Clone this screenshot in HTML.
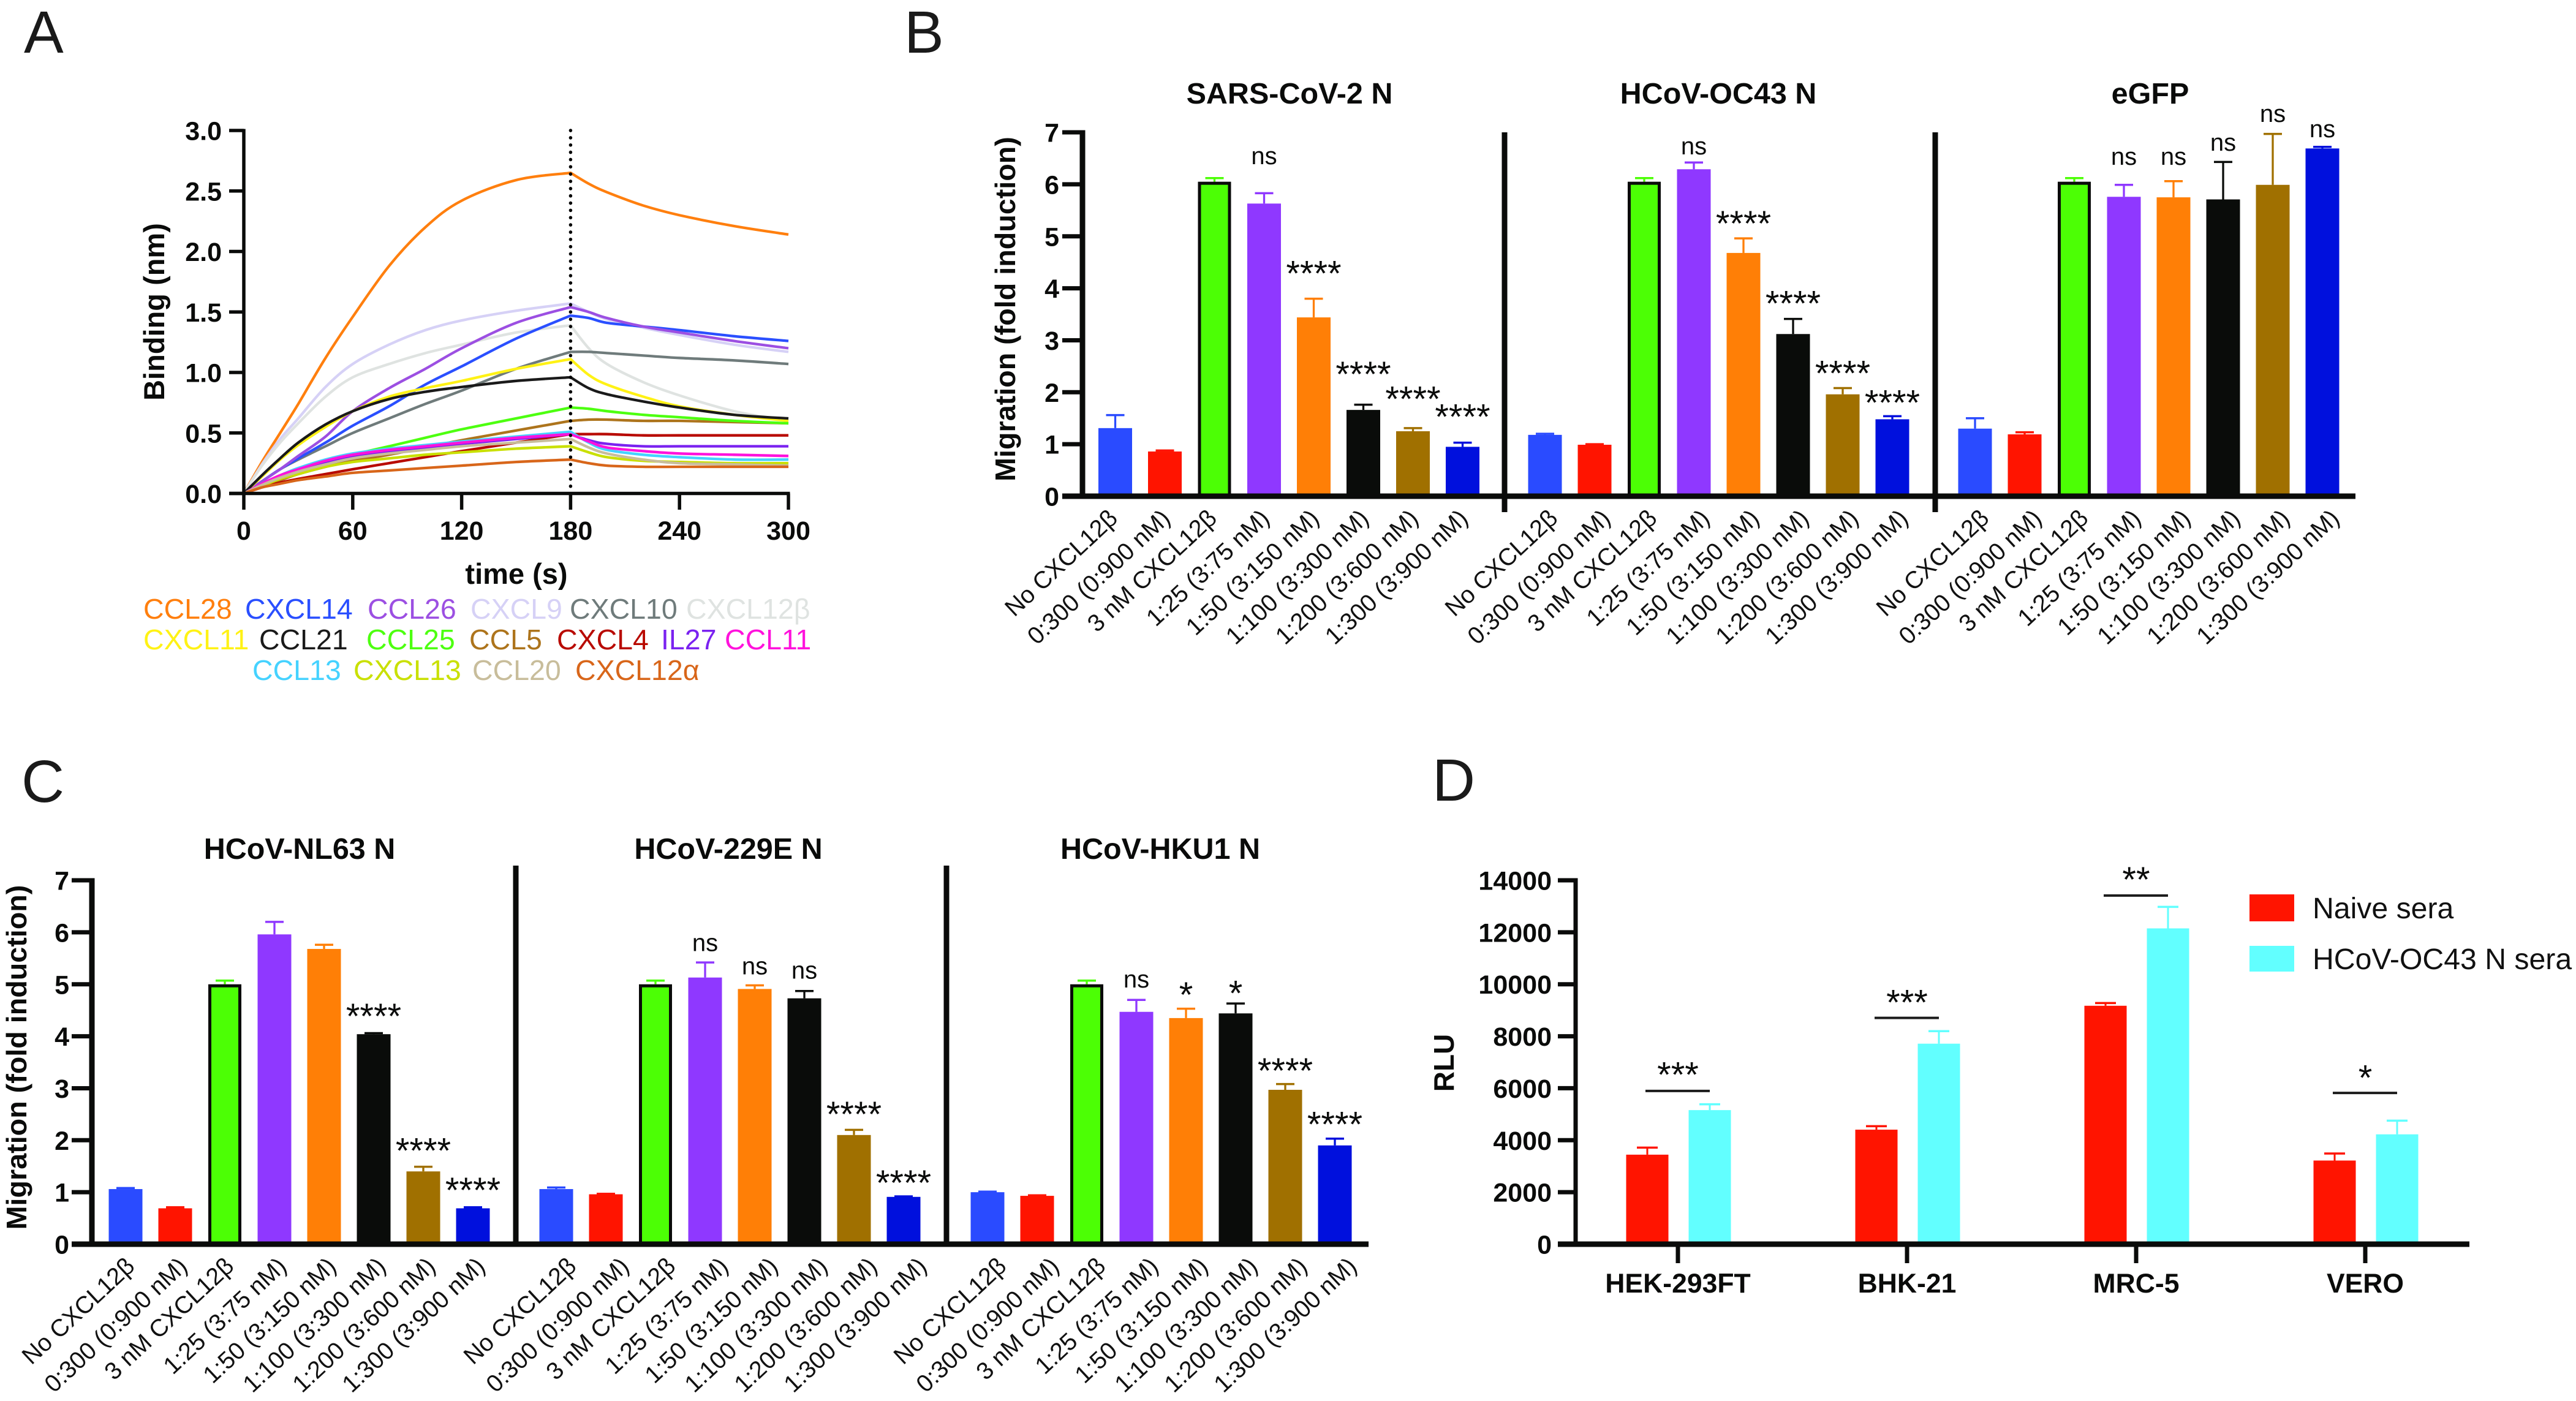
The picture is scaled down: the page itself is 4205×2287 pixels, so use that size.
<!DOCTYPE html>
<html lang="en">
<head>
<meta charset="utf-8">
<title>Chemokine binding and migration figure</title>
<style>
html,body{margin:0;padding:0;background:#fff;}
#figure{display:block;width:4205px;height:2287px;}
text{font-family:"Liberation Sans",Arial,sans-serif;fill:#0b0b0b;}
.letter{font-size:97px;fill:#1a1a1a;}
</style>
</head>
<body>
<svg id="figure" xmlns="http://www.w3.org/2000/svg" width="4205" height="2287" viewBox="0 0 4205 2287">
  <rect width="4205" height="2287" fill="#fff"/>
  <text class="letter" x="39" y="86">A</text>
  <text class="letter" x="1476" y="86">B</text>
  <text class="letter" x="35" y="1309">C</text>
  <text class="letter" x="2338" y="1307">D</text>
  <g id="panel-a"></g>
  <g id="panel-b"></g>
  <g id="panel-c"></g>
  <g id="panel-d"></g>
</svg>
<script>
// ---------- Panel A data ----------
const timePoints = [0,10,20,30,45,60,80,100,120,150,180,190,200,220,240,270,300];
const bindingTicksY = [0,0.5,1,1.5,2,2.5,3];
const bindingTicksX = [0,60,120,180,240,300];
const ccl28 = [0,.26,.5,.74,1.12,1.46,1.88,2.2,2.42,2.59,2.65,2.56,2.49,2.38,2.3,2.21,2.14];
const cxcl9 = [0,.24,.45,.62,.88,1.07,1.23,1.35,1.43,1.51,1.57,1.5,1.44,1.37,1.31,1.23,1.17];
const cxcl12b = [0,.23,.42,.58,.8,.96,1.07,1.16,1.23,1.33,1.39,1.2,1.07,.92,.81,.68,.6];
const cxcl10 = [0,.1,.2,.28,.39,.5,.62,.74,.85,1.03,1.17,1.17,1.16,1.14,1.12,1.1,1.07];
const cxcl14 = [0,.1,.2,.29,.42,.56,.72,.9,1.05,1.28,1.47,1.45,1.41,1.38,1.35,1.3,1.26];
const ccl26 = [0,.1,.2,.31,.47,.68,.87,1.03,1.2,1.41,1.54,1.5,1.45,1.38,1.33,1.26,1.2];
const cxcl11 = [0,.14,.28,.4,.55,.68,.8,.87,.93,1.03,1.11,.98,.9,.8,.72,.65,.6];
const ccl21 = [0,.15,.29,.42,.57,.68,.78,.84,.88,.93,.96,.87,.82,.76,.71,.65,.62];
const ccl5 = [0,.06,.11,.16,.22,.27,.32,.38,.44,.52,.6,.61,.61,.6,.6,.59,.58];
const ccl25 = [0,.07,.13,.19,.26,.32,.39,.46,.53,.62,.71,.7,.68,.65,.63,.6,.58];
const cxcl4 = [0,.05,.09,.12,.16,.2,.25,.3,.35,.42,.49,.49,.49,.48,.48,.48,.48];
const il27 = [0,.07,.14,.19,.26,.31,.35,.38,.41,.45,.49,.44,.41,.39,.39,.39,.39];
const ccl13 = [0,.08,.15,.21,.28,.33,.37,.4,.43,.47,.51,.42,.36,.32,.3,.28,.28];
const ccl11 = [0,.08,.15,.2,.27,.32,.36,.39,.42,.46,.49,.43,.38,.35,.33,.32,.31];
const cxcl13 = [0,.06,.12,.16,.22,.26,.29,.32,.34,.37,.39,.34,.3,.27,.26,.25,.25];
const ccl20 = [0,.07,.13,.18,.24,.29,.33,.36,.39,.42,.45,.38,.33,.28,.25,.24,.23];
const cxcl12a = [0,.05,.08,.11,.14,.17,.19,.21,.23,.26,.28,.25,.23,.22,.22,.22,.22];

// ---------- Panels B / C shared labels ----------
const doseCategories = ['No CXCL12β','0:300 (0:900 nM)','3 nM CXCL12β','1:25 (3:75 nM)','1:50 (3:150 nM)','1:100 (3:300 nM)','1:200 (3:600 nM)','1:300 (3:900 nM)'];
const migrationTicks = [0,1,2,3,4,5,6,7];

// Panel B
const sarsValues = [1.31,.86,6.05,5.63,3.44,1.66,1.25,.95];
const sarsErrTops = [1.56,.88,6.12,5.83,3.8,1.76,1.31,1.03];
const sarsMarks = ['','','','ns','****','****','****','****'];
const sarsMarkLevels = [0,0,0,6.53,4.38,2.44,1.96,1.62];
const oc43Values = [1.18,.99,6.05,6.29,4.68,3.12,1.96,1.48];
const oc43ErrTops = [1.2,1.0,6.12,6.42,4.96,3.41,2.08,1.54];
const oc43Marks = ['','','','ns','****','****','****','****'];
const oc43MarkLevels = [0,0,0,6.72,5.34,3.8,2.46,1.89];
const egfpValues = [1.3,1.19,6.05,5.76,5.75,5.71,5.99,6.69];
const egfpErrTops = [1.5,1.23,6.12,5.99,6.06,6.43,6.97,6.72];
const egfpMarks = ['','','','ns','ns','ns','ns','ns'];
const egfpMarkLevels = [0,0,0,6.52,6.52,6.79,7.34,7.05];

// Panel C
const nl63Values = [1.06,.69,5.0,5.96,5.68,4.04,1.4,.69];
const nl63ErrTops = [1.08,.71,5.07,6.2,5.76,4.06,1.49,.71];
const nl63Marks = ['','','','','','****','****','****'];
const nl63MarkLevels = [0,0,0,0,0,4.48,1.89,1.13];
const e229Values = [1.06,.96,5.0,5.13,4.91,4.73,2.1,.91];
const e229ErrTops = [1.09,.97,5.07,5.42,4.98,4.87,2.2,.92];
const e229Marks = ['','','','ns','ns','ns','****','****'];
const e229MarkLevels = [0,0,0,5.78,5.33,5.25,2.59,1.27];
const hku1Values = [1.0,.93,5.0,4.47,4.35,4.44,2.97,1.9];
const hku1ErrTops = [1.01,.94,5.07,4.7,4.53,4.63,3.08,2.03];
const hku1Marks = ['','','','ns','*','*','****','****'];
const hku1MarkLevels = [0,0,0,5.08,4.89,4.92,3.43,2.4];

// Panel D
const cellLines = ['HEK-293FT','BHK-21','MRC-5','VERO'];
const rluTicks = [0,2000,4000,6000,8000,10000,12000,14000];
const naiveValues = [3444,4406,9173,3218];
const naiveErrTops = [3714,4541,9278,3489];
const oc43SeraValues = [5158,7714,12150,4226];
const oc43SeraErrTops = [5383,8195,12977,4752];
const sigMarks = ['***','***','**','*'];
const sigBarLevels = [5895,8707,13413,5820];
const sigMarkLevels = [6707,9489,14210,6586];

// ---------- Styling ----------
const NS = 'http://www.w3.org/2000/svg';
const INK = '#0a0b0a';
const barColors = ['#2a4bff','#ff1400','#4cff05','#8f38ff','#ff7f06','#0a0c0a','#a07000','#0010dd'];

function drawLine(parent, x1, y1, x2, y2, w, color, name, extra) {
  const el = document.createElementNS(NS, 'line');
  el.setAttribute('x1', x1); el.setAttribute('y1', y1);
  el.setAttribute('x2', x2); el.setAttribute('y2', y2);
  el.setAttribute('stroke', color); el.setAttribute('stroke-width', w);
  if (extra) { el.setAttribute('stroke-dasharray', extra); el.setAttribute('stroke-linecap', 'round'); }
  
  
  parent.appendChild(el);
  return el;
}
function drawRect(parent, x, y, w, h, fill, name) {
  const el = document.createElementNS(NS, 'rect');
  el.setAttribute('x', x); el.setAttribute('y', y);
  el.setAttribute('width', w); el.setAttribute('height', Math.max(0, h));
  el.setAttribute('fill', fill);
  
  
  parent.appendChild(el);
  return el;
}
function drawText(parent, str, x, y, size, weight, anchor, color, name, rotate) {
  const el = document.createElementNS(NS, 'text');
  el.setAttribute('x', x); el.setAttribute('y', y);
  el.setAttribute('font-size', size);
  el.setAttribute('font-weight', weight);
  el.setAttribute('text-anchor', anchor);
  el.style.fill = color;
  if (rotate) el.setAttribute('transform', 'rotate(' + rotate + ' ' + x + ' ' + y + ')');
  el.textContent = str;
  
  
  parent.appendChild(el);
  return el;
}

// ---------- Panel A ----------
(function () {
  const g = document.getElementById('panel-a');
  const X = t => 398 + t * (1287 - 398) / 300;
  const Y = v => 805.5 - v * (805.5 - 213) / 3;
  const series = [
    ['CCL28', ccl28, '#ff7f0e'], ['CXCL9', cxcl9, '#d6d1f6'], ['CXCL12β', cxcl12b, '#dfe3e1'],
    ['CXCL10', cxcl10, '#6f7b7b'], ['CXCL14', cxcl14, '#2a4fff'], ['CCL26', ccl26, '#9c4fe2'],
    ['CXCL11', cxcl11, '#fff215'], ['CCL21', ccl21, '#1a1a1a'], ['CCL5', ccl5, '#ad741c'],
    ['CCL25', ccl25, '#4dff10'], ['CXCL4', cxcl4, '#b80a00'], ['IL27', il27, '#7a22f0'],
    ['CCL13', ccl13, '#45d2ff'], ['CCL11', ccl11, '#ff12dc'], ['CXCL13', cxcl13, '#c9e000'],
    ['CCL20', ccl20, '#c8bd9b'], ['CXCL12α', cxcl12a, '#d8661a']
  ];
  function smooth(pts) {
    let d = '';
    for (let i = 0; i < pts.length - 1; i++) {
      const p0 = pts[Math.max(0, i - 1)], p1 = pts[i], p2 = pts[i + 1], p3 = pts[Math.min(pts.length - 1, i + 2)];
      const c1x = p1[0] + (p2[0] - p0[0]) / 6, c1y = p1[1] + (p2[1] - p0[1]) / 6;
      const c2x = p2[0] - (p3[0] - p1[0]) / 6, c2y = p2[1] - (p3[1] - p1[1]) / 6;
      d += ' C' + c1x.toFixed(1) + ' ' + c1y.toFixed(1) + ' ' + c2x.toFixed(1) + ' ' + c2y.toFixed(1) + ' ' + p2[0].toFixed(1) + ' ' + p2[1].toFixed(1);
    }
    return d;
  }
  series.forEach(s => {
    const pts = timePoints.map((t, i) => [X(t), Y(s[1][i])]);
    const k = timePoints.indexOf(180);
    const d = 'M' + pts[0][0] + ' ' + pts[0][1] + smooth(pts.slice(0, k + 1)) + smooth(pts.slice(k));
    const p = document.createElementNS(NS, 'path');
    p.setAttribute('d', d);
    p.setAttribute('fill', 'none');
    p.setAttribute('stroke', s[2]);
    p.setAttribute('stroke-width', '4.3');
    p.setAttribute('stroke-linejoin', 'round');
    
    
    g.appendChild(p);
  });
  drawLine(g, X(180), 213, X(180), 796, 5.5, '#000', 'dissociation-marker-line', '0.1 11.75');
  drawLine(g, 398, 210.5, 398, 808, 5.5, INK, 'y-axis-line');
  drawLine(g, 374, 805.5, 1289.5, 805.5, 5.5, INK, 'x-axis-line');
  bindingTicksY.forEach(v => {
    drawLine(g, 374, Y(v), 398, Y(v), 5.5, INK, 'y-tick');
    drawText(g, v.toFixed(1), 362, Y(v) + 15.5, 43, 700, 'end', INK, 'y-tick-label');
  });
  bindingTicksX.forEach(t => {
    drawLine(g, X(t), 805.5, X(t), 832, 5.5, INK, 'x-tick');
    drawText(g, String(t), X(t), 881, 43, 700, 'middle', INK, 'x-tick-label');
  });
  drawText(g, 'time (s)', 843, 953, 47, 700, 'middle', INK, 'x-axis-title');
  drawText(g, 'Binding (nm)', 268, 509, 47, 700, 'middle', INK, 'y-axis-title', -90);
  const legendItems = [
    ['CCL28',234,1010,'#ff7f0e'],['CXCL14',400,1010,'#2a4fff'],['CCL26',600,1010,'#9c4fe2'],['CXCL9',768,1010,'#d6d1f6'],['CXCL10',930,1010,'#6f7b7b'],['CXCL12β',1120,1010,'#dfe3e1'],
    ['CXCL11',234,1060,'#fff215'],['CCL21',423,1060,'#1a1a1a'],['CCL25',598,1060,'#4dff10'],['CCL5',766,1060,'#ad741c'],['CXCL4',909,1060,'#b80a00'],['IL27',1079,1060,'#7a22f0'],['CCL11',1183,1060,'#ff12dc'],
    ['CCL13',412,1110,'#45d2ff'],['CXCL13',577,1110,'#c9e000'],['CCL20',771,1110,'#c8bd9b'],['CXCL12α',939,1110,'#d8661a']
  ];
  legendItems.forEach(l => {
    drawText(g, l[0], l[1], l[2], 46.5, 400, 'start', l[3], 'legend-entry');
  });
})();

// ---------- Bar groups (B, C) ----------
function migrationGroup(g, cfg, values, errTops, marks, levels) {
  const Y = v => cfg.y0 - v * cfg.unit;
  drawText(g, cfg.title, cfg.titleX, cfg.titleY, 48.5, 700, 'middle', INK, 'group-title');
  values.forEach((v, i) => {
    const cx = cfg.x0 + i * 81;
    const col = barColors[i];
    const top = Y(v);
    drawLine(g, cx, Y(errTops[i]), cx, top, 3.3, col, 'error-stem');
    drawLine(g, cx - 15, Y(errTops[i]), cx + 15, Y(errTops[i]), 3.5, col, 'error-cap');
    if (i === 2) {
      drawRect(g, cx - 27, top, 54, cfg.y0 - top, INK, 'bar-outline');
      drawRect(g, cx - 22, top + 5, 44, cfg.y0 - top - 5, col, 'bar-control');
    } else {
      drawRect(g, cx - 27.5, top, 55, cfg.y0 - top, col, 'bar');
    }
    const m = marks[i];
    if (m === 'ns') {
      drawText(g, m, cx, Y(levels[i]) + 12, 40, 400, 'middle', INK, 'significance-ns');
    } else if (m) {
      drawText(g, m, cx, Y(levels[i]) + 28, 58, 400, 'middle', INK, 'significance-stars');
    }
    const off = doseCategories[i].indexOf('CXCL') >= 0 ? -5 : 0;
    const px = cx + cfg.labelOff + off - 6;
    const py = cfg.y0 + 39;
    drawText(g, doseCategories[i], px, py, 39.5, 400, 'end', '#111', 'category-label', -43);
  });
}
function migrationAxes(g, cfg) {
  const Y = v => cfg.y0 - v * cfg.unit;
  drawLine(g, cfg.axisX, Y(7) - 3.5, cfg.axisX, cfg.y0, 9, INK, 'y-axis-line');
  drawLine(g, cfg.tickX, cfg.y0, cfg.endX, cfg.y0, 9, INK, 'x-axis-line');
  migrationTicks.forEach(v => {
    drawLine(g, cfg.tickX, Y(v), cfg.axisX, Y(v), 7, INK, 'y-tick');
    drawText(g, String(v), cfg.labelX, Y(v) + 15.5, 43, 700, 'end', INK, 'y-tick-label');
  });
  cfg.seps.forEach(x => {
    drawLine(g, x, cfg.sepTop, x, cfg.sepBottom, 9, INK, 'group-separator');
  });
  drawText(g, 'Migration (fold induction)', cfg.titleAxisX, cfg.titleAxisY, 46.7, 700, 'middle', INK, 'y-axis-title', -90);
}

(function () {
  const g = document.getElementById('panel-b');
  const base = { y0: 810, unit: 84.85, titleY: 169 };
  migrationGroup(g, Object.assign({ title: 'SARS-CoV-2 N', titleX: 2105, x0: 1820.5, labelOff: 17 }, base), sarsValues, sarsErrTops, sarsMarks, sarsMarkLevels);
  migrationGroup(g, Object.assign({ title: 'HCoV-OC43 N', titleX: 2805, x0: 2522, labelOff: 34 }, base), oc43Values, oc43ErrTops, oc43Marks, oc43MarkLevels);
  migrationGroup(g, Object.assign({ title: 'eGFP', titleX: 3510, x0: 3224, labelOff: 36 }, base), egfpValues, egfpErrTops, egfpMarks, egfpMarkLevels);
  migrationAxes(g, { y0: 810, unit: 84.85, axisX: 1767, tickX: 1734, endX: 3845, labelX: 1729, seps: [2456, 3159], sepTop: 216, sepBottom: 836, titleAxisX: 1657, titleAxisY: 504.5 });
})();

(function () {
  const g = document.getElementById('panel-c');
  const base = { y0: 2031, unit: 84.85, titleY: 1402 };
  migrationGroup(g, Object.assign({ title: 'HCoV-NL63 N', titleX: 489, x0: 205, labelOff: 28 }, base), nl63Values, nl63ErrTops, nl63Marks, nl63MarkLevels);
  migrationGroup(g, Object.assign({ title: 'HCoV-229E N', titleX: 1189, x0: 908, labelOff: 46 }, base), e229Values, e229ErrTops, e229Marks, e229MarkLevels);
  migrationGroup(g, Object.assign({ title: 'HCoV-HKU1 N', titleX: 1894, x0: 1612, labelOff: 44 }, base), hku1Values, hku1ErrTops, hku1Marks, hku1MarkLevels);
  migrationAxes(g, { y0: 2031, unit: 84.85, axisX: 150, tickX: 117, endX: 2234, labelX: 113, seps: [842, 1545], sepTop: 1413, sepBottom: 2033, titleAxisX: 43, titleAxisY: 1726 });
})();

// ---------- Panel D ----------
(function () {
  const g = document.getElementById('panel-d');
  const Y = v => 2031 - v * (2031 - 1437) / 14000;
  const groupX = i => 2739 + i * 374;
  cellLines.forEach((name, i) => {
    const cx = groupX(i);
    const xr = cx - 50, xc = cx + 52;
    drawLine(g, xr, Y(naiveErrTops[i]), xr, Y(naiveValues[i]), 3, '#ff1400', 'error-stem');
    drawLine(g, xr - 17, Y(naiveErrTops[i]), xr + 17, Y(naiveErrTops[i]), 3.5, '#ff1400', 'error-cap');
    drawRect(g, xr - 34.5, Y(naiveValues[i]), 69, 2031 - Y(naiveValues[i]), '#ff1400', 'bar-naive-sera');
    drawLine(g, xc, Y(oc43SeraErrTops[i]), xc, Y(oc43SeraValues[i]), 3, '#62ffff', 'error-stem');
    drawLine(g, xc - 17, Y(oc43SeraErrTops[i]), xc + 17, Y(oc43SeraErrTops[i]), 3.5, '#62ffff', 'error-cap');
    drawRect(g, xc - 34.5, Y(oc43SeraValues[i]), 69, 2031 - Y(oc43SeraValues[i]), '#62ffff', 'bar-oc43-sera');
    drawLine(g, cx - 53, Y(sigBarLevels[i]), cx + 52, Y(sigBarLevels[i]), 4, '#1c1c1c', 'significance-bar');
    drawText(g, sigMarks[i], cx, Y(sigMarkLevels[i]) + 28, 58, 400, 'middle', INK, 'significance-stars');
    drawLine(g, cx, 2031, cx, 2062, 7, INK, 'x-tick');
    drawText(g, name, cx, 2110, 44.5, 700, 'middle', INK, 'x-tick-label');
  });
  drawLine(g, 2572, 1433.5, 2572, 2031, 7, INK, 'y-axis-line');
  drawLine(g, 2543, 2031, 4031, 2031, 9, INK, 'x-axis-line');
  rluTicks.forEach(v => {
    drawLine(g, 2543, Y(v), 2572, Y(v), 7, INK, 'y-tick');
    drawText(g, String(v), 2533, Y(v) + 15.5, 43, 700, 'end', INK, 'y-tick-label');
  });
  drawText(g, 'RLU', 2373, 1735, 46, 700, 'middle', INK, 'y-axis-title', -90);
  drawRect(g, 3672, 1460, 73, 44, '#ff1400', 'legend-swatch-naive');
  drawRect(g, 3672, 1544, 73, 42, '#62ffff', 'legend-swatch-oc43');
  drawText(g, 'Naive sera', 3775, 1499, 48.2, 400, 'start', '#111', 'legend-label-naive');
  drawText(g, 'HCoV-OC43 N sera', 3775, 1582, 48.2, 400, 'start', '#111', 'legend-label-oc43');
})();
</script>
</body>
</html>
